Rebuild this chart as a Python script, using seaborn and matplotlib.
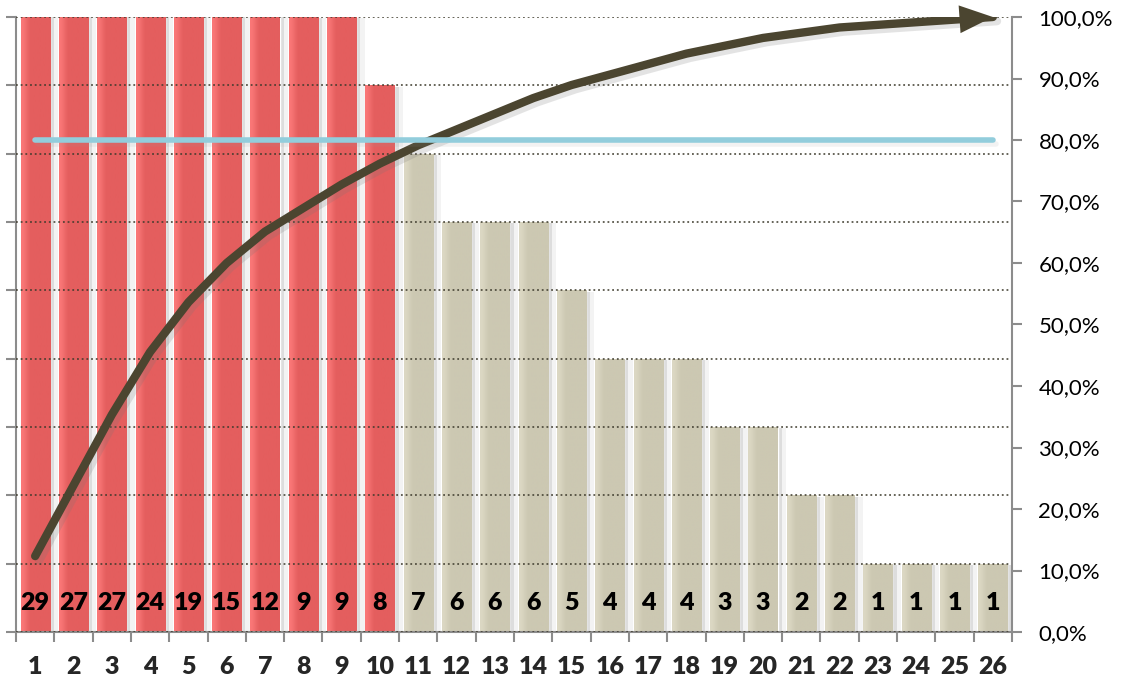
import numpy as np
import pandas as pd
import matplotlib
matplotlib.use("Agg")
import matplotlib.pyplot as plt
import seaborn as sns
from matplotlib import patheffects as pe
from matplotlib.colors import to_rgb
from matplotlib.ticker import FuncFormatter, MultipleLocator, FixedLocator

# Pareto data: defect counts per cause, sorted descending
categories = [str(i) for i in range(1, 27)]
counts = [29, 27, 27, 24, 19, 15, 12, 9, 9, 8, 7, 6, 6, 6, 5,
          4, 4, 4, 3, 3, 2, 2, 1, 1, 1, 1]
n_vital = 10          # first causes highlighted in red
threshold = 0.80      # 80 % reference line
count_max = 9         # primary axis is cut at this value

df = pd.DataFrame({"cause": categories, "count": counts})
df["group"] = ["vital"] * n_vital + ["trivial"] * (len(counts) - n_vital)
df["pos"] = np.arange(len(df))
df["cum_share"] = np.cumsum(counts) / np.sum(counts)

sns.set_theme(style="white")
plt.rcParams["font.family"] = ["Lato", "DejaVu Sans"]

W, H = 1122, 679
fig = plt.figure(figsize=(W / 100, H / 100), dpi=100)
left, right, top, bottom = 16, 1012, 17, 632
ax = fig.add_axes([left / W, (H - bottom) / H, (right - left) / W, (bottom - top) / H])

palette = {"vital": "#E45E5E", "trivial": "#CCC8B2"}
light = {"vital": "#FA7878", "trivial": "#DCD8C4"}
sns.barplot(data=df, x="cause", y="count", hue="group", palette=palette,
            dodge=False, width=0.76, saturation=1, legend=False, ax=ax)

# soft drop shadow plus a light-to-dark horizontal gradient on each bar
for p in ax.patches:
    h = p.get_height()
    if not np.isfinite(h) or h <= 0:
        continue
    base = np.array(to_rgb(p.get_facecolor()))
    key = "vital" if np.allclose(base, to_rgb(palette["vital"]), atol=0.02) else "trivial"
    lt = np.array(to_rgb(light[key]))
    t = np.linspace(0, 1, 64)
    s = np.clip(t / 0.35, 0, 1)
    s = s * s * (3 - 2 * s)
    grad = (lt[None, :] * (1 - s[:, None]) + base[None, :] * s[:, None])[None, :, :]
    p.set_path_effects([pe.SimplePatchShadow(offset=(3, -1), shadow_rgbFace="#9a9a9a", alpha=0.25),
                        pe.SimplePatchShadow(offset=(6, -1), shadow_rgbFace="#b0b0b0", alpha=0.15),
                        pe.Normal()])
    x0, w = p.get_x(), p.get_width()
    im = ax.imshow(grad, extent=[x0, x0 + w, 0, min(h, count_max)], aspect="auto",
                   zorder=p.get_zorder() + 0.1, interpolation="bilinear")
    im.set_clip_path(p)

# value labels inside the bars
for pos, c in zip(df["pos"], df["count"]):
    ax.text(pos, 0.43, str(c), ha="center", va="center", fontsize=18,
            fontweight=800, color="black", zorder=5)

ax.set_xlim(-0.5, len(df) - 0.5)
ax.set_ylim(0, count_max)
ax.yaxis.set_major_locator(MultipleLocator(1))
ax.set_axisbelow(False)
ax.grid(axis="y", color="#3d3a2c", alpha=0.85, linestyle=(0, (1, 1.6)), linewidth=1.3)
ax.grid(axis="x", visible=False)
ax.set_xlabel("")
ax.set_ylabel("")

spine_col = "#8c8c8c"
for side in ("top", "right"):
    ax.spines[side].set_visible(False)
for side in ("left", "bottom"):
    ax.spines[side].set_color(spine_col)
    ax.spines[side].set_linewidth(1.5)

ax.tick_params(axis="y", left=True, length=7, width=1.5, color=spine_col, labelleft=False)
ax.xaxis.set_major_locator(FixedLocator(df["pos"].tolist()))
ax.set_xticklabels(categories)
ax.xaxis.set_minor_locator(FixedLocator(np.arange(-0.5, len(df), 1.0).tolist()))
ax.tick_params(axis="x", which="major", length=0, pad=17, labelsize=18)
ax.tick_params(axis="x", which="minor", bottom=True, length=7, width=1.5, color=spine_col)
for lab in ax.get_xticklabels():
    lab.set_fontweight(800)

# secondary axis: cumulative share
ax2 = ax.twinx()
sns.lineplot(x=df["pos"], y=df["cum_share"], ax=ax2, color="#4B4530", linewidth=6,
             solid_capstyle="round", solid_joinstyle="round",
             path_effects=[pe.SimpleLineShadow(offset=(3, -3), shadow_color="#777777", alpha=0.2),
                           pe.Normal()])
# arrow head at the end of the cumulative curve
x_end, y_end = df["pos"].iloc[-1], df["cum_share"].iloc[-1]
x_prev, y_prev = df["pos"].iloc[-2], df["cum_share"].iloc[-2]
ax2.annotate("", xy=(x_end, y_end), xytext=(x_prev, y_prev),
             arrowprops=dict(arrowstyle="-|>,head_length=1.2,head_width=0.5",
                             mutation_scale=20, color="#4B4530", lw=0,
                             shrinkA=0, shrinkB=0), zorder=4)

sns.lineplot(x=[df["pos"].iloc[0], df["pos"].iloc[-1]], y=[threshold, threshold], ax=ax2,
             color="#92CDDC", linewidth=4, solid_capstyle="round",
             path_effects=[pe.SimpleLineShadow(offset=(2, -3), shadow_color="#999999", alpha=0.12),
                           pe.Normal()])

ax2.set_ylim(0, 1)
ax2.set_xlim(-0.5, len(df) - 0.5)
ax2.yaxis.set_major_locator(MultipleLocator(0.1))
ax2.yaxis.set_major_formatter(FuncFormatter(lambda v, _: f"{v * 100:.1f}%".replace(".", ",")))
ax2.tick_params(axis="y", right=True, length=7, width=1.5, color=spine_col, pad=12,
                labelsize=16, labelcolor="black")
ax2.set_ylabel("")
ax2.grid(False)
for side in ("top", "left", "bottom"):
    ax2.spines[side].set_visible(False)
ax2.spines["right"].set_color(spine_col)
ax2.spines["right"].set_linewidth(1.5)

fig.savefig("out.png", dpi=100, facecolor="white")
